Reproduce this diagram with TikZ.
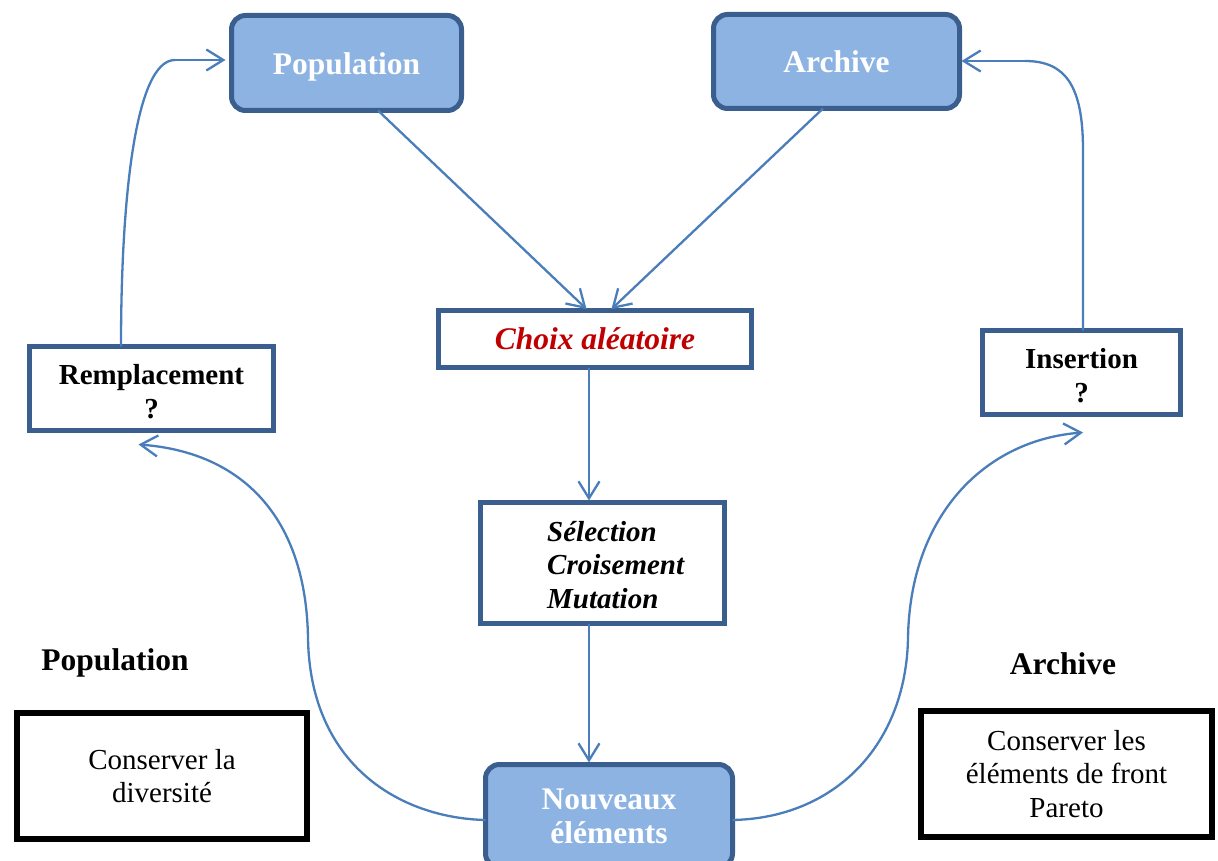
\documentclass[tikz,border=0pt]{standalone}
\usepackage{fontspec}
\setmainfont{Liberation Serif}
\usetikzlibrary{arrows.meta}
\definecolor{boxfill}{HTML}{8DB3E2}
\definecolor{boxedge}{HTML}{3A5F8E}
\definecolor{linkblue}{HTML}{4A7EBB}
\definecolor{darkred}{HTML}{C00000}
\tikzset{
  bluebox/.style={draw=boxedge, fill=boxfill, line width=5pt, rounded corners=14pt,
    inner sep=0pt, outer sep=0pt, align=center, text=white,
    font=\fontsize{31.5}{34}\selectfont\bfseries},
  whitebox/.style={draw=boxedge, fill=white, line width=5pt, inner sep=0pt, outer sep=0pt,
    align=center, font=\fontsize{29}{33.5}\selectfont\bfseries},
  boxtext/.style={inner sep=0pt, align=center, font=\fontsize{29}{33.5}\selectfont\bfseries},
  notebox/.style={draw=black, line width=6pt, inner sep=0pt, outer sep=0pt,
    align=center, font=\fontsize{29}{33.5}\selectfont},
  heading/.style={font=\fontsize{31.5}{34}\selectfont\bfseries, inner sep=0pt},
  conn/.style={draw=linkblue, line width=2.3pt,
    -{Straight Barb[length=17pt,width=21pt,line width=2.3pt]}},
  link/.style={draw=linkblue, line width=2.3pt}
}
\begin{document}
\begin{tikzpicture}[x=1pt,y=-1pt]
\useasboundingbox (0,0) rectangle (1218,861);

% main flow boxes
\node[bluebox, minimum width=230, minimum height=95] (pop) at (346.5,63) {};
\node[boxtext, text=white, font=\fontsize{31.5}{34}\selectfont\bfseries] (popt)
      at ([yshift=-4pt]pop.center) {Population};
\node[bluebox, minimum width=246, minimum height=94] (arch) at (836.5,61.5) {Archive};
\node[whitebox, minimum width=313, minimum height=57, text=darkred,
      font=\fontsize{31.5}{34}\selectfont\bfseries\itshape] (choix) at (595,339) {Choix aléatoire};
\node[whitebox, minimum width=244, minimum height=121] (sel) at (602.5,563) {};
\node[anchor=west, align=left, inner sep=0pt,
      font=\fontsize{29}{33.8}\selectfont\bfseries\itshape] (ops) at (547,565)
      {Sélection\\Croisement\\Mutation};
\node[whitebox, minimum width=244, minimum height=84] (rem) at (151.5,388.5) {};
\node[boxtext] (remt) at ([yshift=-3pt]rem.center) {Remplacement\\?};
\node[whitebox, minimum width=198, minimum height=84] (ins) at (1081.5,372.5) {};
\node[boxtext] (inst) at ([yshift=-3pt]ins.center) {Insertion\\?};
\node[bluebox, minimum width=247, minimum height=103] (nouv) at (609,816) {Nouveaux\\éléments};

% side notes
\node[heading] (hpop) at (115,663) {Population};
\node[notebox, minimum width=290, minimum height=126] (npop) at (162,776) {Conserver la\\diversité};
\node[heading] (harch) at (1063,664) {Archive};
\node[notebox, minimum width=291, minimum height=126] (narch) at (1066.5,774)
      {Conserver les\\éléments de front\\Pareto};

% straight connectors
\draw[conn, shorten >=2pt] ([xshift=31.5pt]pop.south) -- ([xshift=-7pt]choix.north);
\draw[conn, shorten >=2pt] ([xshift=-13.5pt]arch.south) -- ([xshift=15pt]choix.north);
\draw[conn, shorten >=2pt] ([xshift=-6pt]choix.south) -- ([xshift=-6pt]choix.south |- sel.north);
\draw[conn, shorten >=2pt] ([xshift=-13.5pt]sel.south) -- ([xshift=-13.5pt]sel.south |- nouv.north);

% loop back to the population
\coordinate (lbend) at (175,60);
\draw[link] ([xshift=-30.5pt]rem.north) .. controls (121,200) and (135,60) .. (lbend);
\draw[conn, shorten >=6pt] (lbend) -- ([yshift=3pt]pop.west);

% loop back to the archive
\coordinate (rtop) at (1083,150);
\coordinate (rbend) at (1025,61);
\draw[link] ([xshift=1.5pt]ins.north) -- (rtop) .. controls (1083,85) and (1065,61) .. (rbend);
\draw[conn, shorten >=2pt] (rbend) -- ([yshift=0.5pt]arch.east);

% new elements towards replacement / insertion
\coordinate (lmid) at (308,638);
\coordinate (rmid) at (908,638);
\draw[link] ([yshift=-4pt]nouv.west) .. controls (400,818) and (310,765) .. (lmid);
\draw[conn] (lmid) .. controls (306,515) and (240,452) .. ([xshift=-13pt,yshift=-14pt]rem.south);
\draw[link] ([yshift=-4pt]nouv.east) .. controls (835,818) and (906,745) .. (rmid);
\draw[conn] (rmid) .. controls (910,515) and (985,440) .. ([xshift=1.5pt,yshift=-18pt]ins.south);
\end{tikzpicture}
\end{document}
